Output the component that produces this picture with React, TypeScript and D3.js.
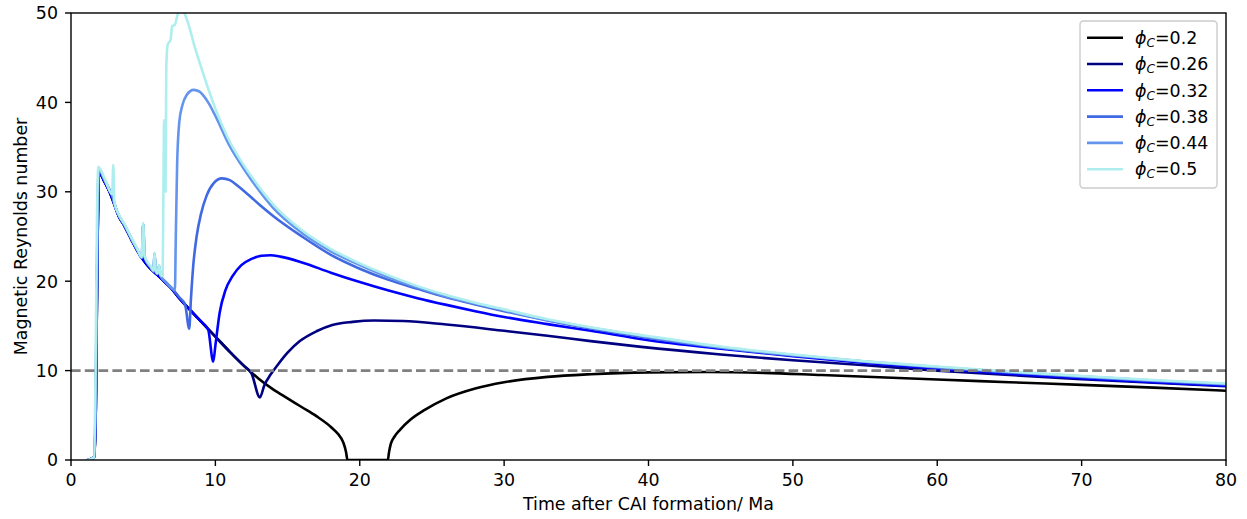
import React from "react";
import * as d3 from "d3";

type Pt = [number, number];

const phiLabels = ["0.2", "0.26", "0.32", "0.38", "0.44", "0.5"];
const colors = ["#000000", "#000080", "#0000ff", "#4169e1", "#6495ed", "#afeeee"];
const xTicks = [0, 10, 20, 30, 40, 50, 60, 70, 80];
const yTicks = [0, 10, 20, 30, 40, 50];

const earlySmooth: Pt[] = [[1.2, 0], [1.6, 0.3], [1.72, 6], [1.82, 22], [1.95, 32.2], [2.3, 31.2], [2.7, 29.9], [3.0, 28.6], [3.3, 27.3], [3.7, 26.2], [4.2, 24.6], [4.6, 23.4], [5.0, 22.4], [5.5, 21.4], [6.0, 20.7], [6.5, 19.9], [7.0, 19.1], [7.5, 18.1]];

const earlySpiky: Pt[] = [[1.2, 0], [1.6, 0.3], [1.72, 8], [1.82, 24], [1.92, 32.6], [2.3, 31.4], [2.7, 30.1], [2.9, 29.4], [3.0, 28.7], [3.3, 27.4], [3.7, 26.3], [4.2, 24.7], [4.6, 23.5], [4.9, 22.6], [5.0, 26.4], [5.1, 22.7], [5.5, 21.6], [5.72, 21.1], [5.78, 23.1], [5.88, 21.0], [6.0, 20.8], [6.1, 21.7], [6.2, 20.6], [6.5, 20.0], [7.0, 19.2]];

const earlyCyan: Pt[] = [[1.2, 0], [1.6, 0.3], [1.7, 10], [1.8, 27], [1.9, 32.8], [2.0, 32.6], [2.4, 31.2], [2.85, 29.7], [2.93, 33.0], [3.0, 28.9], [3.3, 27.5], [3.7, 26.4], [4.2, 24.8], [4.6, 23.6], [4.9, 22.7], [5.0, 26.5], [5.1, 22.8], [5.5, 21.7], [5.72, 21.2], [5.78, 23.2], [5.88, 21.1], [6.0, 20.9], [6.1, 21.8], [6.2, 20.7], [6.35, 20.6]];

const series02: Pt[] = [...earlySmooth, [8, 17.2], [9, 15.5], [10, 13.8], [11, 12.1], [12, 10.5], [13, 9.1], [14, 7.9], [15, 6.9], [16, 5.9], [17, 4.9], [18, 3.7], [18.5, 2.9], [18.85, 2.0], [19.05, 0.9], [19.15, 0], [21.95, 0], [22.02, 0.8], [22.15, 1.8], [22.4, 2.6], [22.8, 3.4], [23.5, 4.5], [24.5, 5.6], [26, 6.9], [28, 8.0], [30, 8.7], [33, 9.3], [36, 9.6], [40, 9.8], [44, 9.85], [48, 9.75], [52, 9.5], [56, 9.25], [60, 9.0], [65, 8.7], [70, 8.4], [75, 8.1], [80, 7.75]];

const series026: Pt[] = [...earlySmooth, [8, 17.2], [9, 15.5], [10, 13.8], [11, 12.1], [12, 10.5], [12.5, 9.7], [13.08, 7.0], [13.4, 8.4], [13.8, 9.5], [14.3, 10.6], [15, 12.0], [15.85, 13.3], [17, 14.4], [18.1, 15.1], [19.5, 15.45], [21, 15.6], [23, 15.55], [26, 15.15], [30, 14.45], [33, 13.9], [36, 13.3], [39.5, 12.65], [45, 11.8], [50, 11.15], [55, 10.6], [60, 10.0], [65, 9.5], [70, 9.05], [75, 8.65], [80, 8.25]];

const series032: Pt[] = [...earlySmooth, [8, 17.2], [9, 15.5], [9.5, 14.6], [9.85, 11.0], [10.0, 12.8], [10.3, 16.5], [10.7, 19.0], [11.2, 20.6], [11.8, 21.8], [12.5, 22.5], [13.2, 22.85], [13.8, 22.9], [14.5, 22.75], [16, 22.1], [18, 20.95], [20, 19.9], [22, 18.95], [24, 18.1], [26, 17.35], [28, 16.65], [30, 16.0], [33, 15.2], [36, 14.45], [40, 13.4], [45, 12.45], [50, 11.6], [55, 10.85], [60, 10.2], [65, 9.65], [70, 9.15], [75, 8.7], [80, 8.3]];

const series038: Pt[] = [...earlySpiky, [7.5, 18.2], [7.9, 17.4], [8.19, 14.7], [8.3, 17.8], [8.46, 21.6], [8.7, 25.0], [9.0, 27.5], [9.4, 29.6], [9.9, 31.0], [10.45, 31.5], [11, 31.3], [11.6, 30.6], [12.4, 29.5], [13.1, 28.5], [14, 27.3], [16, 25.0], [18, 22.95], [20, 21.4], [22, 20.15], [24, 19.15], [26, 18.2], [28, 17.4], [30, 16.65], [33, 15.6], [36, 14.7], [40, 13.65], [45, 12.55], [50, 11.7], [55, 11.0], [60, 10.35], [65, 9.8], [70, 9.3], [75, 8.85], [80, 8.45]];

const series044: Pt[] = [...earlySpiky, [7.2, 19.0], [7.25, 24], [7.35, 33], [7.5, 37.8], [7.7, 39.6], [8.0, 40.8], [8.5, 41.4], [8.9, 41.2], [9.5, 40.0], [10, 38.5], [11, 35.1], [12, 32.5], [13, 30.2], [14, 28.2], [16, 25.4], [18, 23.35], [20, 21.8], [22, 20.45], [24, 19.3], [26, 18.3], [28, 17.5], [30, 16.75], [33, 15.65], [36, 14.8], [40, 13.75], [45, 12.6], [50, 11.75], [55, 11.0], [60, 10.4], [65, 9.85], [70, 9.35], [75, 8.9], [80, 8.5]];

const series05: Pt[] = [...earlyCyan, [6.4, 30], [6.45, 38], [6.5, 36], [6.55, 30], [6.6, 44], [6.7, 46.5], [6.9, 47], [7.0, 48.5], [7.2, 48.7], [7.35, 49.6], [7.5, 50.3], [7.7, 50.4], [7.9, 49.8], [8.2, 48.4], [8.5, 46.6], [9, 44.0], [10, 39.3], [11, 35.6], [12, 32.9], [13, 30.6], [14, 28.6], [16, 25.7], [18, 23.6], [20, 22.0], [22, 20.65], [24, 19.45], [26, 18.45], [28, 17.6], [30, 16.85], [33, 15.75], [36, 14.85], [40, 13.85], [45, 12.7], [50, 11.8], [55, 11.05], [60, 10.45], [65, 9.9], [70, 9.4], [75, 8.95], [80, 8.55]];

const allSeries = [series02, series026, series032, series038, series044, series05];
const threshold = 10;

const W = 1247, H = 519;
const L = 71, R = 1226, T = 13, B = 460;
const FONT = "'DejaVu Sans', sans-serif";
const FS = 17.4;

export default function App() {
  const x = d3.scaleLinear().domain([0, 80]).range([L, R]);
  const y = d3.scaleLinear().domain([0, 50]).range([B, T]);
  const line = d3.line<Pt>().x(d => x(d[0])).y(d => y(d[1])).curve(d3.curveMonotoneX);

  const legX = 1080, legY = 21, legW = 137, legH = 167;
  const rowH = 26.3;

  return (
    <svg width={W} height={H} style={{ position: "absolute", left: 0, top: 0 }} fontFamily={FONT}>
      <defs>
        <clipPath id="plotclip">
          <rect x={L} y={T} width={R - L} height={B - T} />
        </clipPath>
      </defs>
      <rect x={0} y={0} width={W} height={H} fill="white" />
      <g clipPath="url(#plotclip)">
        {allSeries.map((s, i) => (
          <path key={i} d={line(s) || ""} fill="none" stroke={colors[i]} strokeWidth={2.6} strokeLinejoin="round" strokeLinecap="square" />
        ))}
        <line x1={x(0)} x2={x(80)} y1={y(threshold)} y2={y(threshold)} stroke="#808080" strokeWidth={2.6} strokeDasharray="9.6,4.2" />
      </g>
      <rect x={L} y={T} width={R - L} height={B - T} fill="none" stroke="black" strokeWidth={1.4} />
      {xTicks.map(t => (
        <g key={"x" + t}>
          <line x1={x(t)} x2={x(t)} y1={B} y2={B + 6} stroke="black" strokeWidth={1.4} />
          <text x={x(t)} y={B + 25.5} fontSize={FS} textAnchor="middle" fill="black">{t}</text>
        </g>
      ))}
      {yTicks.map(t => (
        <g key={"y" + t}>
          <line x1={L - 6} x2={L} y1={y(t)} y2={y(t)} stroke="black" strokeWidth={1.4} />
          <text x={L - 13} y={y(t) + 6.3} fontSize={FS} textAnchor="end" fill="black">{t}</text>
        </g>
      ))}
      <text x={(L + R) / 2} y={510} fontSize={FS} textAnchor="middle" fill="black">Time after CAI formation/ Ma</text>
      <text transform={`translate(27,${(T + B) / 2}) rotate(-90)`} fontSize={FS} textAnchor="middle" fill="black">Magnetic Reynolds number</text>

      <rect x={legX} y={legY} width={legW} height={legH} rx={3.5} ry={3.5} fill="white" fillOpacity={0.8} stroke="#cccccc" strokeWidth={1.4} />
      {phiLabels.map((lab, i) => {
        const cy = legY + 16.7 + i * rowH;
        return (
          <g key={"leg" + i}>
            <line x1={1087} x2={1123} y1={cy} y2={cy} stroke={colors[i]} strokeWidth={2.6} />
            <text x={1135} y={cy + 6.2} fontSize={FS} fill="black">
              <tspan fontStyle="italic">ϕ</tspan>
              <tspan fontStyle="italic" fontSize={FS * 0.7} dy={3}>C</tspan>
              <tspan dy={-3}>={lab}</tspan>
            </text>
          </g>
        );
      })}
    </svg>
  );
}
